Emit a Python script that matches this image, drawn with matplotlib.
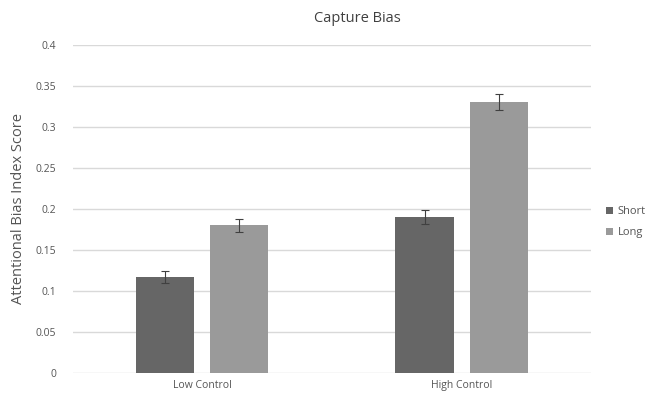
import numpy as np
import matplotlib
matplotlib.use('Agg')
import matplotlib.pyplot as plt

categories = ["Low Control", "High Control"]
short_vals = [0.117, 0.19]
long_vals = [0.18, 0.33]
short_err = [0.007, 0.009]
long_err = [0.008, 0.01]
yticks = [0, 0.05, 0.1, 0.15, 0.2, 0.25, 0.3, 0.35, 0.4]
ytick_labels = ["0", "0.05", "0.1", "0.15", "0.2", "0.25", "0.3", "0.35", "0.4"]

plt.rcParams['font.family'] = ['Open Sans', 'DejaVu Sans']

fig = plt.figure(figsize=(6.62, 3.93), dpi=100)
ax = fig.add_axes([0.110, 0.051, 0.783, 0.835])

x = np.arange(len(categories))
w = 0.224
off = 0.143
ax.bar(x - off, short_vals, w, color="#666666", label="Short", zorder=3,
       yerr=short_err, error_kw=dict(ecolor="#404040", elinewidth=0.8, capsize=3, capthick=0.8))
ax.bar(x + off, long_vals, w, color="#9a9a9a", label="Long", zorder=3,
       yerr=long_err, error_kw=dict(ecolor="#404040", elinewidth=0.8, capsize=3, capthick=0.8))

ax.set_xlim(-0.5, 1.5)
ax.set_ylim(0, 0.4)
ax.set_yticks(yticks)
ax.set_yticklabels(ytick_labels)
ax.set_xticks(x)
ax.set_xticklabels(categories)
ax.yaxis.grid(True, color="#d9d9d9", linewidth=1, zorder=0)
for s in ax.spines.values():
    s.set_visible(False)
ax.tick_params(length=0, labelsize=7.5, colors="#555555")
ax.tick_params(axis='y', pad=12)
ax.tick_params(axis='x', pad=5)

ax.set_ylabel("Attentional Bias Index Score", fontsize=10.5, color="#555555", labelpad=7)
fig.text(0.54, 0.952, "Capture Bias", ha="center", va="center", fontsize=10.5, color="#404040")

ax.legend(loc="center left", bbox_to_anchor=(1.01, 0.46), frameon=False, fontsize=8,
          handlelength=0.6, handleheight=0.6, handletextpad=0.4, labelspacing=0.9,
          labelcolor="#555555")

fig.savefig("out.png", dpi=100)
